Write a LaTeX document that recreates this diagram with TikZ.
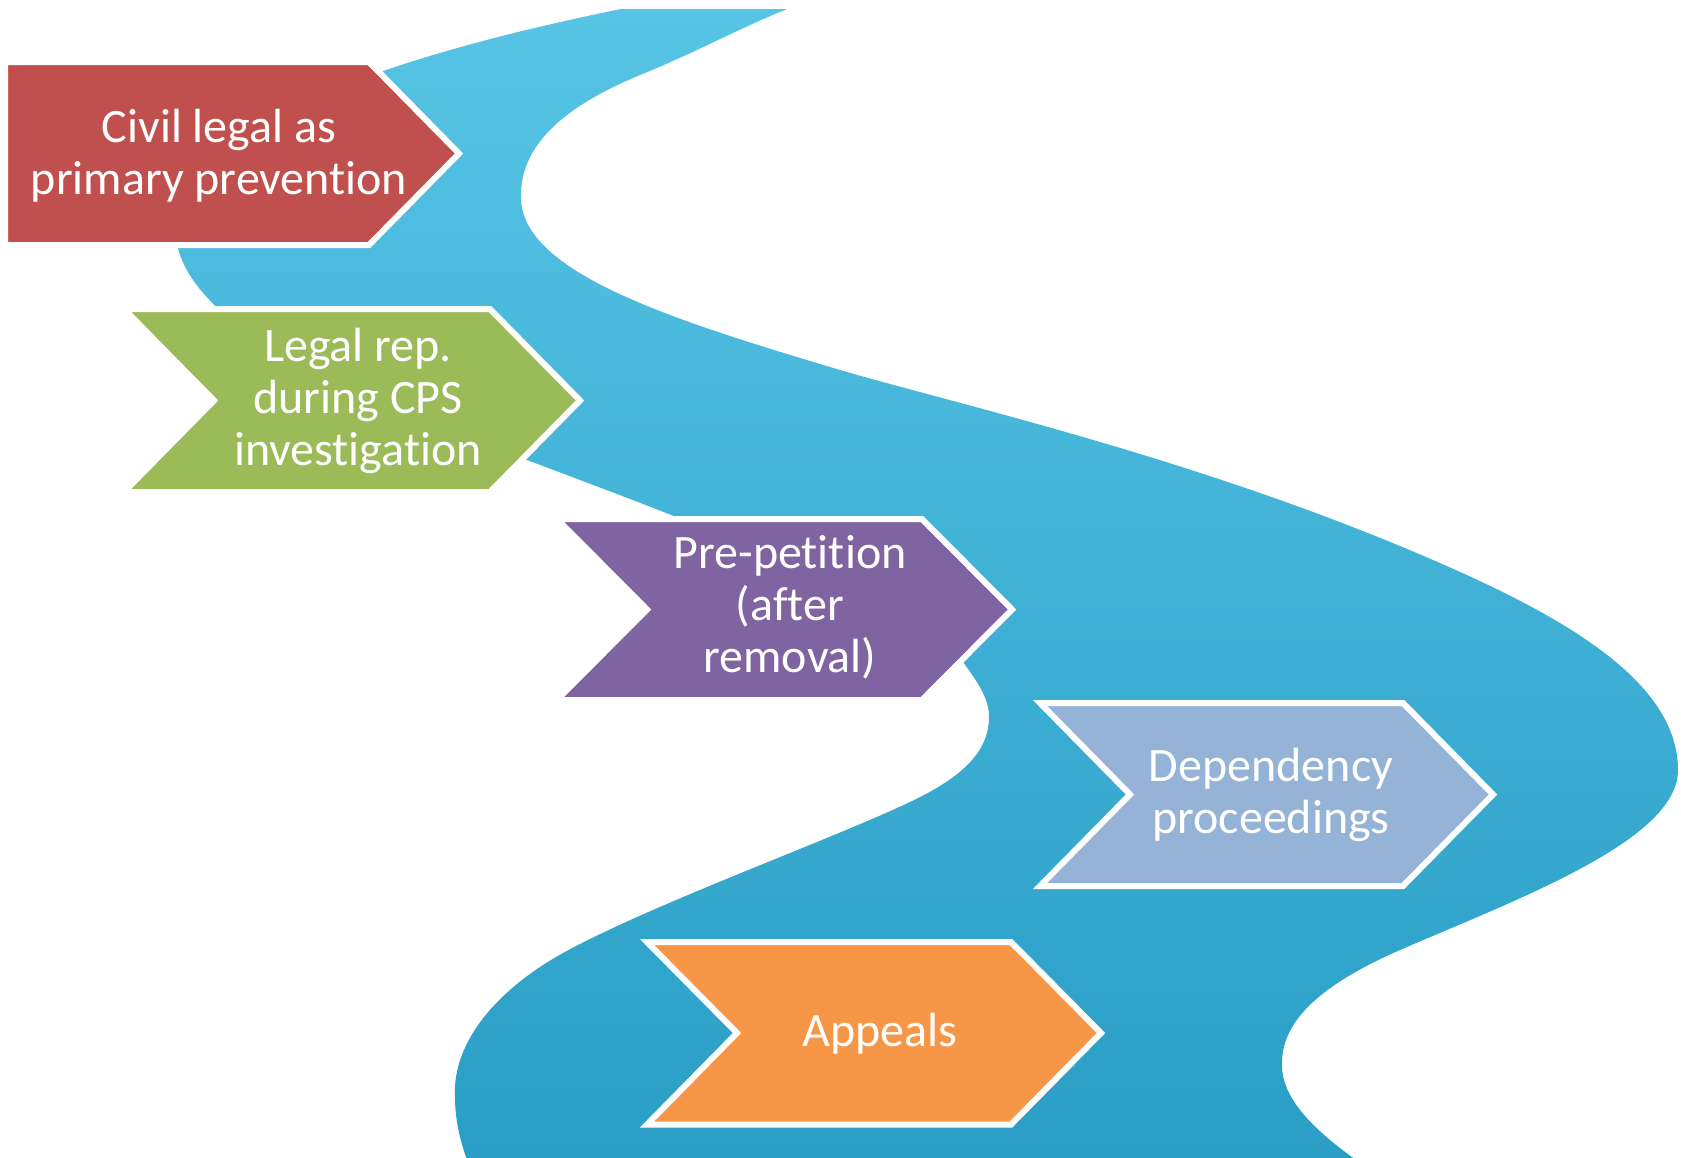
\documentclass[tikz,border=0pt]{standalone}
\usepackage{fontspec}
\setmainfont{Carlito}[RawFeature={-liga}]
\definecolor{riverTop}{HTML}{57C4E5}
\definecolor{riverBot}{HTML}{2A9EC6}
\definecolor{stepRed}{HTML}{C0504D}
\definecolor{stepGreen}{HTML}{9BBB59}
\definecolor{stepPurple}{HTML}{8064A2}
\definecolor{stepBlue}{HTML}{95B3D7}
\definecolor{stepOrange}{HTML}{F79646}
\begin{document}
\begin{tikzpicture}[x=1pt,y=-1pt,
  chevron/.style={draw=white, line width=6pt, line join=miter},
  steptext/.style={text=white, align=center, inner sep=0pt,
    font=\fontsize{48}{52}\selectfont}]
\useasboundingbox (0,0) rectangle (1681,1157);
\fill[white] (0,0) rectangle (1681,1157);

% the winding river: left bank down, bottom edge, right bank up
\shade[top color=riverTop, bottom color=riverBot]
  (621,9) .. controls (420,50) and (176,120) .. (176,232)
  .. controls (176,320) and (360,410) .. (527,460)
  .. controls (700,525) and (900,600) .. (963,662)
  .. controls (980,685) and (989,700) .. (989,717)
  .. controls (989,750) and (965,776) .. (910,802)
  .. controls (830,840) and (650,905) .. (563,953)
  .. controls (500,988) and (452,1040) .. (455,1097)
  .. controls (455,1120) and (460,1140) .. (467,1160)
  -- (1356,1160)
  .. controls (1300,1120) and (1280,1090) .. (1282,1060)
  .. controls (1284,1020) and (1320,985) .. (1400,950)
  .. controls (1520,898) and (1678,840) .. (1678,770)
  .. controls (1678,680) and (1560,615) .. (1433,560)
  .. controls (1200,459) and (960,405) .. (840,370)
  .. controls (680,322) and (525,275) .. (521,200)
  .. controls (518,140) and (575,102) .. (640,75)
  .. controls (690,55) and (740,28) .. (787,9)
  -- cycle;

% the five stages
\filldraw[chevron, fill=stepRed]
  (5,62) -- (369,62) -- (459,153.5) -- (369,245) -- (5,245) -- cycle;
\filldraw[chevron, fill=stepGreen]
  (124,309) -- (490,309) -- (580,400.5) -- (490,492) -- (124,492) -- (214,400.5) -- cycle;
\filldraw[chevron, fill=stepPurple]
  (557,519) -- (922,519) -- (1012,609.5) -- (922,700) -- (557,700) -- (647,609.5) -- cycle;
\filldraw[chevron, fill=stepBlue]
  (1040,703) -- (1403,703) -- (1493,794.5) -- (1403,886) -- (1040,886) -- (1130,794.5) -- cycle;
\filldraw[chevron, fill=stepOrange]
  (647,942) -- (1011,942) -- (1101,1033) -- (1011,1124.5) -- (647,1124.5) -- (737,1033) -- cycle;

\node[steptext] (civil) at (219,156) {Civil legal as\\primary prevention};
\node[steptext] (legalrep) at (358,401) {Legal rep.\\during CPS\\investigation};
\node[steptext] (prepetition) at (790,607) {Pre-petition\\(after\\removal)};
\node[steptext] (dependency) at (1271,795) {Dependency\\proceedings};
\node[steptext] (appeals) at (880,1034) {Appeals};
\end{tikzpicture}
\end{document}
